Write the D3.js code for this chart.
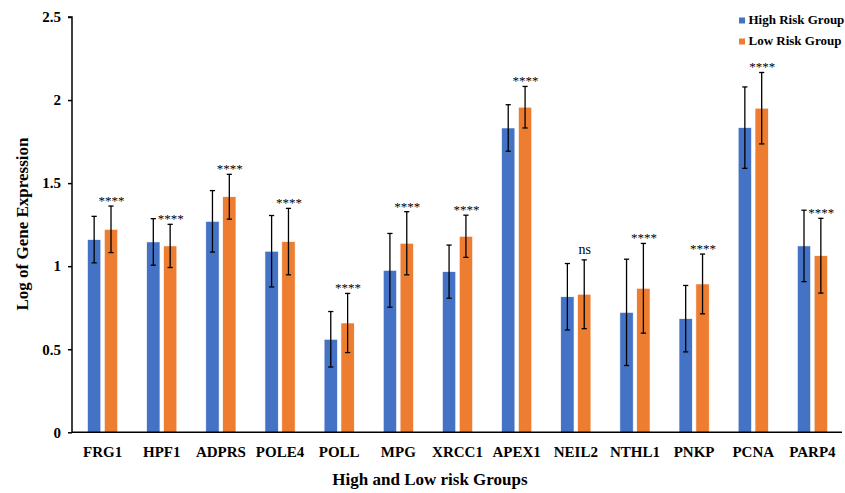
<!DOCTYPE html>
<html>
<head>
<meta charset="utf-8">
<script src="https://cdn.jsdelivr.net/npm/d3@7"></script>
<style>
  body { margin: 0; background: #fff; }
  svg { display: block; font-family: "Liberation Serif", "Times New Roman", serif; }
</style>
</head>
<body>
<svg id="chart" width="845" height="493"></svg>
<script>
// genes on the x axis
const genes = ['FRG1', 'HPF1', 'ADPRS', 'POLE4', 'POLL', 'MPG', 'XRCC1',
               'APEX1', 'NEIL2', 'NTHL1', 'PNKP', 'PCNA', 'PARP4'];

// mean log expression per group
const highRisk = [1.16, 1.146, 1.27, 1.09, 0.56, 0.975, 0.967, 1.832, 0.816, 0.722, 0.684, 1.834, 1.122];
const lowRisk  = [1.222, 1.122, 1.418, 1.148, 0.658, 1.138, 1.18, 1.957, 0.831, 0.867, 0.893, 1.951, 1.063];

// error bar half-lengths
const highErr = [0.14, 0.14, 0.185, 0.215, 0.167, 0.222, 0.16, 0.14, 0.2, 0.32, 0.2, 0.245, 0.215];
const lowErr  = [0.14, 0.13, 0.135, 0.2, 0.178, 0.19, 0.127, 0.125, 0.207, 0.27, 0.18, 0.215, 0.225];

// significance labels
const signif = ['****', '****', '****', '****', '****', '****', '****',
                '****', 'ns', '****', '****', '****', '****'];

const yTicks = [0, 0.5, 1, 1.5, 2, 2.5];
const seriesNames = ['High Risk Group', 'Low Risk Group'];
const colors = ['#4472C4', '#ED7D31'];

const svg = d3.select('#chart');

const x0 = d3.scaleBand()
    .domain(genes)
    .range([73, 842])
    .paddingInner(0.49)
    .paddingOuter(0.245);

const x1 = d3.scaleBand()
    .domain([0, 1])
    .range([0, x0.bandwidth()])
    .paddingInner(0.21);

const y = d3.scaleLinear()
    .domain([0, 2.5])
    .range([432.3, 17]);

const rows = genes.map((g, i) => ({
    gene: g,
    sig: signif[i],
    vals: [
        { s: 0, v: highRisk[i], e: highErr[i] },
        { s: 1, v: lowRisk[i], e: lowErr[i] }
    ]
}));

// bars
const groups = svg.append('g')
    .selectAll('g')
    .data(rows)
    .join('g')
    .attr('transform', d => `translate(${x0(d.gene)},0)`);

groups.selectAll('rect')
    .data(d => d.vals)
    .join('rect')
    .attr('x', d => x1(d.s))
    .attr('y', d => y(d.v))
    .attr('width', x1.bandwidth())
    .attr('height', d => y(0) - y(d.v))
    .attr('fill', d => colors[d.s])
    .attr('stroke', '#fff')
    .attr('stroke-width', 0.6);

// error bars
const err = groups.selectAll('g.err')
    .data(d => d.vals)
    .join('g')
    .attr('class', 'err')
    .attr('stroke', '#000')
    .attr('stroke-width', 1.3);

err.append('line')
    .attr('x1', d => x1(d.s) + x1.bandwidth() / 2)
    .attr('x2', d => x1(d.s) + x1.bandwidth() / 2)
    .attr('y1', d => y(d.v + d.e))
    .attr('y2', d => y(d.v - d.e));

[1, -1].forEach(sign => {
    err.append('line')
        .attr('x1', d => x1(d.s) + x1.bandwidth() / 2 - 2.6)
        .attr('x2', d => x1(d.s) + x1.bandwidth() / 2 + 2.6)
        .attr('y1', d => y(d.v + sign * d.e))
        .attr('y2', d => y(d.v + sign * d.e));
});

// significance marks above the low risk error bar
groups.append('text')
    .attr('x', x1(1) + x1.bandwidth() / 2 + 0.5)
    .attr('y', d => y(d.vals[1].v + d.vals[1].e) - (d.sig === 'ns' ? 6 : 1))
    .attr('text-anchor', 'middle')
    .attr('font-size', d => d.sig === 'ns' ? 14 : 13)
    .attr('fill', '#000')
    .text(d => d.sig);

// y axis
const yAxis = svg.append('g')
    .attr('transform', 'translate(72,0)')
    .call(d3.axisLeft(y).tickValues(yTicks).tickSize(4).tickPadding(7).tickFormat(d3.format('')));
yAxis.selectAll('path, line').attr('stroke', '#000').attr('stroke-width', 1.5);
yAxis.select('.domain').attr('d', `M-4,${y(2.5)}H0V${y(0)}`);
yAxis.selectAll('text')
    .attr('font-family', '"Liberation Serif", serif')
    .attr('font-size', 15)
    .attr('font-weight', 'bold')
    .attr('fill', '#000');

// x axis
const xAxis = svg.append('g')
    .attr('transform', `translate(0,${y(0)})`)
    .call(d3.axisBottom(x0).tickSize(0).tickPadding(14));
xAxis.select('.domain').attr('d', `M72,0H842`).attr('stroke', '#000').attr('stroke-width', 1.6);
xAxis.selectAll('text')
    .attr('font-family', '"Liberation Serif", serif')
    .attr('font-size', 15)
    .attr('font-weight', 'bold')
    .attr('fill', '#000');

// axis titles
svg.append('text')
    .attr('x', 430)
    .attr('y', 485)
    .attr('text-anchor', 'middle')
    .attr('font-size', 17)
    .attr('font-weight', 'bold')
    .text('High and Low risk Groups');

svg.append('text')
    .attr('transform', 'translate(28,224) rotate(-90)')
    .attr('text-anchor', 'middle')
    .attr('font-size', 17)
    .attr('font-weight', 'bold')
    .text('Log of Gene Expression');

// legend
const legend = svg.append('g')
    .selectAll('g')
    .data(seriesNames)
    .join('g')
    .attr('transform', (d, i) => `translate(739,${17.5 + i * 21})`);

legend.append('rect')
    .attr('width', 6)
    .attr('height', 6)
    .attr('fill', (d, i) => colors[i]);

legend.append('text')
    .attr('x', 9.5)
    .attr('y', 6.5)
    .attr('font-size', 13)
    .attr('font-weight', 'bold')
    .text(d => d);
</script>
</body>
</html>
